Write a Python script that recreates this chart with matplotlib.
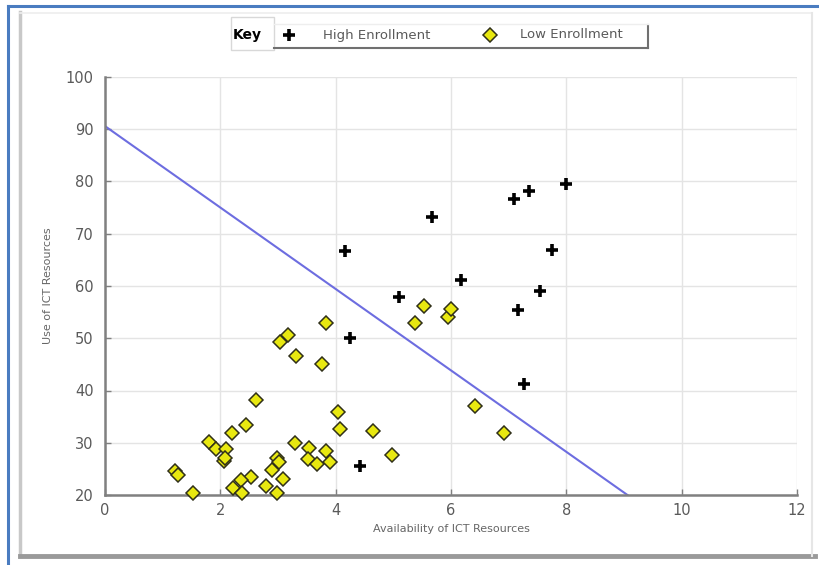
import matplotlib
matplotlib.use("Agg")
import matplotlib.pyplot as plt
from matplotlib.lines import Line2D
from matplotlib.patches import Rectangle

# ---- data ----
high_x = [4.16, 4.25, 5.67, 5.10, 6.17, 7.09, 7.35, 7.99, 7.75, 7.54, 7.16, 7.26, 4.42]
high_y = [66.7, 50.0, 73.2, 57.9, 61.1, 76.7, 78.2, 79.5, 66.9, 59.0, 55.4, 41.2, 25.6]

low_x = [3.84, 3.03, 3.18, 3.31, 3.77, 2.61, 4.04, 4.07, 4.64, 4.97,
         2.44, 2.21, 1.81, 1.93, 2.10, 2.06, 2.08, 1.21, 1.27, 1.52,
         3.29, 3.54, 3.52, 3.68, 3.84, 3.90, 2.98, 3.02, 2.89, 3.09,
         2.80, 2.99, 2.53, 2.36, 2.22, 2.37, 5.37, 5.53, 5.94, 6.00,
         6.41, 6.92]
low_y = [53.0, 49.3, 50.6, 46.6, 45.1, 38.2, 35.9, 32.6, 32.2, 27.7,
         33.4, 31.9, 30.2, 28.8, 28.8, 26.6, 27.1, 24.5, 23.8, 20.4,
         29.9, 28.9, 26.8, 25.9, 28.5, 26.4, 27.0, 26.4, 24.8, 23.1,
         21.7, 20.4, 23.5, 22.9, 21.3, 20.4, 52.9, 56.2, 54.1, 55.6,
         37.1, 31.9]

boundary_x = [0, 9.06]
boundary_y = [90.6, 20.0]

xticks = [0, 2, 4, 6, 8, 10, 12]
yticks = [20, 30, 40, 50, 60, 70, 80, 90, 100]

W, H = 819, 565
fig = plt.figure(figsize=(W / 100, H / 100), dpi=100)
fig.patch.set_facecolor("white")

def fx(px):
    return px / W

def fy(py):
    return 1 - py / H

# outer blue frame and shadowed panel
fig.add_artist(Line2D([fx(8), fx(8)], [fy(6), fy(565)], color="#4a7cc0", lw=2.2))
fig.add_artist(Line2D([fx(8), fx(819)], [fy(6), fy(6)], color="#4a7cc0", lw=2.2))
fig.add_artist(Line2D([fx(20), fx(20)], [fy(12), fy(556)], color="#c8c8c8", lw=2.5))
fig.add_artist(Line2D([fx(20), fx(815)], [fy(556), fy(556)], color="#9a9a9a", lw=3.5))
fig.add_artist(Line2D([fx(20), fx(812)], [fy(13), fy(13)], color="#eeeeee", lw=1.2))
fig.add_artist(Line2D([fx(812), fx(812)], [fy(13), fy(556)], color="#e6e6e6", lw=1.5))

ax = fig.add_axes([fx(105), fy(495), fx(797) - fx(105), fy(77) - fy(495)])
ax.set_xlim(0, 12)
ax.set_ylim(20, 100)
ax.set_xticks(xticks)
ax.set_yticks(yticks)
ax.grid(True, color="#e4e4e4", lw=1.0)
ax.set_axisbelow(True)
for s in ["top", "right"]:
    ax.spines[s].set_visible(False)
for s in ["left", "bottom"]:
    ax.spines[s].set_color("#808080")
    ax.spines[s].set_linewidth(1.8)
ax.tick_params(direction="in", length=4, width=1, color="#808080",
               labelsize=10.5, labelcolor="#5a5a5a")
ax.tick_params(axis="x", pad=6)
ax.tick_params(axis="y", pad=8)

ax.plot(boundary_x, boundary_y, color="#6d6de0", lw=1.5, zorder=2)
ax.plot(high_x, high_y, linestyle="none", marker="+", color="black",
        markersize=9, markeredgewidth=2.6, zorder=4, clip_on=False)
ax.plot(low_x, low_y, linestyle="none", marker="D", markerfacecolor="#e8e810",
        markeredgecolor="#303018", markersize=7.5, markeredgewidth=1.1,
        zorder=5, clip_on=False)

ax.set_xlabel("Availability of ICT Resources", fontsize=8, color="#666666", labelpad=4)
ax.set_ylabel("Use of ICT Resources", fontsize=8, color="#666666", labelpad=9)

# legend ("Key")
fig.add_artist(Rectangle((fx(231), fy(50)), fx(274) - fx(231), fy(17) - fy(50),
                         transform=fig.transFigure, fill=False, ec="#d8d8d8", lw=1))
fig.text(fx(247), fy(35), "Key", fontsize=10, fontweight="bold", color="black",
         ha="center", va="center")
fig.add_artist(Line2D([fx(274), fx(648)], [fy(48), fy(48)], color="#707070", lw=1.5))
fig.add_artist(Line2D([fx(648), fx(648)], [fy(25), fy(48)], color="#707070", lw=1.5))
fig.add_artist(Line2D([fx(274), fx(648)], [fy(24), fy(24)], color="#eeeeee", lw=1))
fig.add_artist(Line2D([fx(289)], [fy(35)], marker="+", color="black",
                      markersize=9, markeredgewidth=2.6, linestyle="none"))
fig.text(fx(323), fy(35), "High Enrollment", fontsize=9.5, color="#5a5a5a",
         ha="left", va="center")
fig.add_artist(Line2D([fx(490)], [fy(35)], marker="D", markerfacecolor="#e8e810",
                      markeredgecolor="#303018", markersize=7.5, markeredgewidth=1.1,
                      linestyle="none"))
fig.text(fx(520), fy(35), "Low Enrollment", fontsize=9.5, color="#5a5a5a",
         ha="left", va="center")

fig.savefig("out.png", dpi=100)
